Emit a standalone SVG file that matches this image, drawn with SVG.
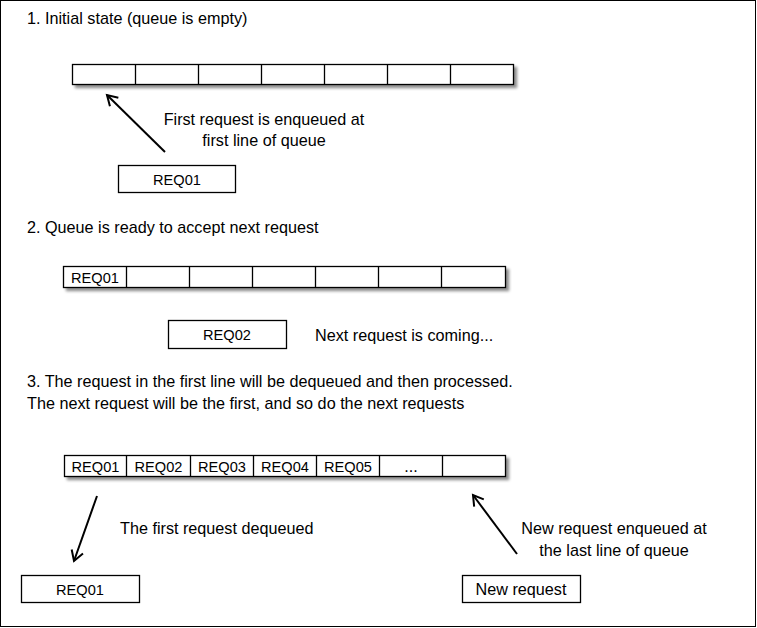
<svg xmlns="http://www.w3.org/2000/svg" width="757" height="628" viewBox="0 0 757 628">
<style>
text{font-family:"Liberation Sans",Arial,sans-serif;font-size:16.2px;fill:#000}
.c{text-anchor:middle}
.r{font-size:14.6px}
.q{fill:#fff;stroke:#000;stroke-width:1.3}
.d{stroke:#000;stroke-width:1.3}
.b{fill:#fff;stroke:#000;stroke-width:1.3}
.a{stroke:#000;stroke-width:2;fill:none}
</style>
<defs>
<filter id="sh" x="-5%" y="-50%" width="110%" height="200%">
<feGaussianBlur in="SourceAlpha" stdDeviation="1.5"/>
<feOffset dx="3" dy="3" result="o"/>
<feComponentTransfer><feFuncA type="linear" slope="0.45"/></feComponentTransfer>
<feMerge><feMergeNode/><feMergeNode in="SourceGraphic"/></feMerge>
</filter>
<marker id="ah" markerUnits="userSpaceOnUse" markerWidth="16" markerHeight="16" viewBox="-12 -8 14 16" refX="0" refY="0" orient="auto">
<path d="M-10,-6 L0,0 L-10,6" fill="none" stroke="#000" stroke-width="2"/>
</marker>
</defs>
<rect x="0.5" y="0.5" width="755" height="626" fill="#fff" stroke="#000" stroke-width="1"/>

<text x="27" y="24">1. Initial state (queue is empty)</text>
<g id="queue1">
<rect class="q" x="72.5" y="64.5" width="441" height="20" filter="url(#sh)"/>
<path class="d" d="M135.5,64.5V84.5M198.5,64.5V84.5M261.5,64.5V84.5M324.5,64.5V84.5M387.5,64.5V84.5M450.5,64.5V84.5"/>
</g>
<text class="c" x="264" y="125">First request is enqueued at</text>
<text class="c" x="264" y="146">first line of queue</text>
<g id="req01a">
<rect class="b" x="118.5" y="165.5" width="117" height="27"/>
<text class="c r" x="177" y="184.5">REQ01</text>
</g>

<text x="27" y="233">2. Queue is ready to accept next request</text>
<g id="queue2">
<rect class="q" x="63.5" y="266.5" width="442" height="21" filter="url(#sh)"/>
<path class="d" d="M126.5,266.5V287.5M189.5,266.5V287.5M252.5,266.5V287.5M315.5,266.5V287.5M378.5,266.5V287.5M441.5,266.5V287.5"/>
<text class="c r" x="95" y="282.5">REQ01</text>
</g>
<g id="req02">
<rect class="b" x="168.5" y="320.5" width="118" height="28"/>
<text class="c r" x="227" y="339.5">REQ02</text>
</g>
<text x="315" y="341">Next request is coming...</text>

<text x="27" y="387">3. The request in the first line will be dequeued and then processed.</text>
<text x="27" y="409">The next request will be the first, and so do the next requests</text>
<g id="queue3">
<rect class="q" x="64.5" y="455.5" width="441" height="21" filter="url(#sh)"/>
<path class="d" d="M126.5,455.5V476.5M190.5,455.5V476.5M253.5,455.5V476.5M316.5,455.5V476.5M379.5,455.5V476.5M442.5,455.5V476.5"/>
<text class="c r" x="95.5" y="471.5">REQ01</text>
<text class="c r" x="158.5" y="471.5">REQ02</text>
<text class="c r" x="222" y="471.5">REQ03</text>
<text class="c r" x="285" y="471.5">REQ04</text>
<text class="c r" x="348" y="471.5">REQ05</text>
<text class="c" x="411" y="472">...</text>
</g>
<text x="120" y="534">The first request dequeued</text>
<text class="c" x="614" y="534">New request enqueued at</text>
<text class="c" x="614" y="556">the last line of queue</text>
<g id="req01b">
<rect class="b" x="21.5" y="575.5" width="118" height="27"/>
<text class="c r" x="80" y="594.5">REQ01</text>
</g>
<g id="newreq">
<rect class="b" x="462.5" y="575.5" width="118" height="27"/>
<text class="c" x="521" y="595">New request</text>
</g>

<g id="connectors">
<line class="a" x1="165" y1="152" x2="107" y2="95" marker-end="url(#ah)"/>
<line class="a" x1="97" y1="496" x2="74" y2="561" marker-end="url(#ah)"/>
<line class="a" x1="517" y1="554" x2="473" y2="495" marker-end="url(#ah)"/>
</g>
</svg>
